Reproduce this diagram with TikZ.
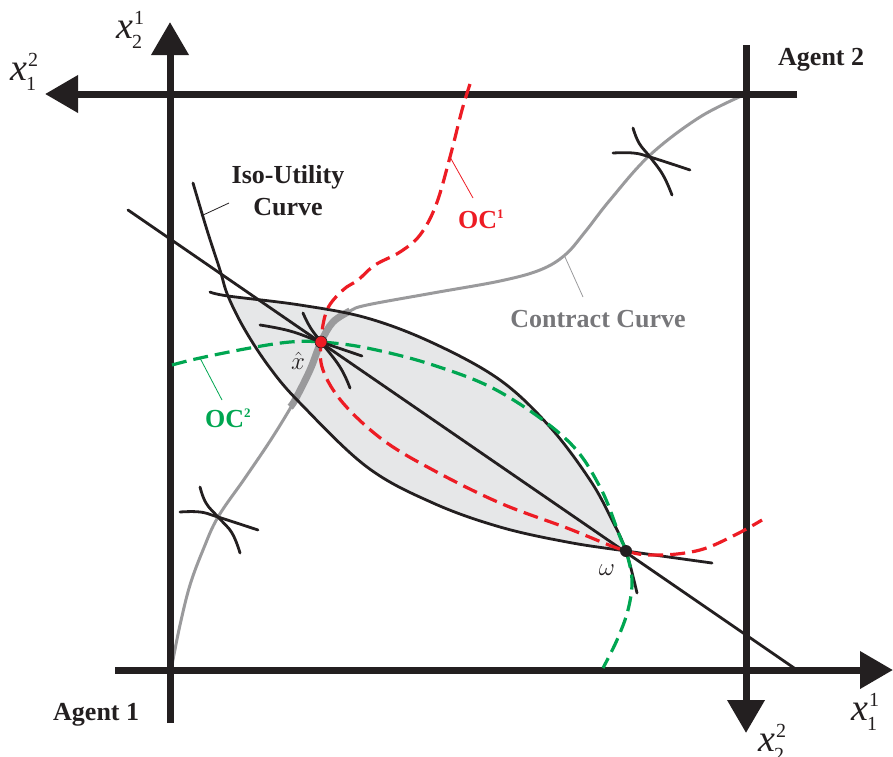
\documentclass[tikz,border=0pt]{standalone}
\usepackage{fontspec}
\setmainfont{Liberation Serif}
\usetikzlibrary{arrows.meta}
\definecolor{ink}{HTML}{231F20}
\definecolor{ocred}{HTML}{ED1C24}
\definecolor{ocgreen}{HTML}{00A651}
\definecolor{ccgrey}{HTML}{9A9A9C}
\definecolor{cctext}{HTML}{77777A}
\definecolor{lens}{HTML}{E6E7E8}
\newcommand{\axlab}[2]{\textit{x}\kern-1pt\rlap{\kern2pt\raisebox{14pt}{\fontsize{20}{20}\selectfont #2}}\raisebox{-10pt}{\fontsize{20}{20}\selectfont #1}}
\tikzset{
  axisline/.style={line width=7pt, draw=ink},
  axisarrow/.style={axisline, -{Triangle[length=33pt,width=36pt]}},
  icurve/.style={line width=2.8pt, draw=ink, line cap=round},
  ocone/.style={line width=3.2pt, draw=ocred, dash pattern=on 15pt off 7pt},
  octwo/.style={line width=3.2pt, draw=ocgreen, dash pattern=on 15pt off 7pt},
  ccurve/.style={line width=3pt, draw=ccgrey},
  pointer/.style={line width=0.8pt},
  lbl/.style={font=\fontsize{26}{28}\selectfont\bfseries, inner sep=0pt},
  mathlbl/.style={font=\fontsize{38}{40}\selectfont, inner sep=0pt},
}
\begin{document}
\begin{tikzpicture}[x=1pt,y=-1pt]
\useasboundingbox (0,0) rectangle (893,756);

% lens
\fill[lens] plot[smooth,tension=0.6] coordinates {(228,296) (300,305) (367,318) (433,343) (500,380) (550,427) (590,480) (612,520) (626,551)}
  -- plot[smooth,tension=0.6] coordinates {(626,551) (567,542) (500,527) (433,503) (367,467) (300,403) (270,368) (245,330) (228,296)} -- cycle;

% contract curve
\draw[ccurve] plot[smooth,tension=0.6] coordinates {(172,665) (180,625) (190,585) (203,550) (218,517) (245,478) (272,438) (295,400) (310,370) (321,342) (333,322) (350,311) (367,305) (433,293) (500,281) (540,270) (565,255) (585,232) (610,200) (650,155) (700,117) (746,94)};
\draw[ccurve, line width=7pt] plot[smooth,tension=0.6] coordinates {(290,407) (295,400) (310,370) (321,342) (333,322) (350,311)};

% axes
\draw[axisarrow] (115,670) -- (893,670);
\draw[axisarrow] (170,723) -- (170,22);
\draw[axisarrow] (797,94) -- (45,94);
\draw[axisarrow] (746,45) -- (746,733);

% price line
\coordinate (xhat) at (321,342);
\coordinate (omega) at (626,551);
\coordinate (pl1) at (128,210);
\coordinate (pl2) at (797,670);
\draw[icurve] (pl1) -- (pl2);

% iso-utility curves through omega
\draw[icurve] plot[smooth,tension=0.6] coordinates {(193,183) (207,230) (220,270) (228,296) (245,330) (270,368) (300,403) (367,467) (433,503) (500,527) (567,542) (626,551) (712,563)};
\draw[icurve] plot[smooth,tension=0.6] coordinates {(210,292) (228,296) (300,305) (367,318) (433,343) (500,380) (550,427) (590,480) (612,520) (626,551) (637,593)};

% offer curves
\draw[ocone] plot[smooth,tension=0.6] coordinates {(470,84) (462,110) (450,157) (436,205) (420,235) (400,252) (375,265) (358,280) (343,290) (327,310) (321,342) (323,370) (343,403) (383,440) (433,470) (500,503) (567,528) (626,551) (660,555) (700,550) (735,535) (762,520)};
\draw[octwo] plot[smooth,tension=0.6] coordinates {(172,365) (200,358) (250,348) (290,342) (321,342) (367,348) (433,365) (500,392) (567,440) (600,487) (620,537) (626,551) (632,580) (628,610) (617,640) (603,668)};

% small indifference curves
\draw[icurve] plot[smooth,tension=0.7] coordinates {(260,325) (290,331) (321,342) (362,356)};
\draw[icurve] plot[smooth,tension=0.7] coordinates {(303,313) (310,327) (321,342) (340,367) (350,388)};
\draw[icurve] plot[smooth,tension=0.7] coordinates {(180,512) (200,512) (218,517) (258,530)};
\draw[icurve] plot[smooth,tension=0.7] coordinates {(200,487) (206,503) (218,517) (232,533) (240,553)};
\draw[icurve] plot[smooth,tension=0.7] coordinates {(613,153) (633,153) (650,157) (690,170)};
\draw[icurve] plot[smooth,tension=0.7] coordinates {(633,128) (639,143) (650,157) (663,175) (672,195)};

% points
\fill[ocred, draw=ink, line width=0.6pt] (xhat) circle (6pt);
\fill[ink] (omega) circle (6pt);

% pointers
\coordinate (isoA) at (201,216); \coordinate (isoB) at (229,203);
\draw[pointer, ink] (isoA) -- (isoB);
\coordinate (ccA) at (565,257); \coordinate (ccB) at (583,297);
\draw[pointer, ccgrey] (ccA) -- (ccB);
\coordinate (oc1A) at (450,157); \coordinate (oc1B) at (473,198);
\draw[pointer, ocred] (oc1A) -- (oc1B);
\coordinate (oc2A) at (200,358); \coordinate (oc2B) at (222,400);
\draw[pointer, ocgreen] (oc2A) -- (oc2B);

% labels
\node[lbl, text=ink, anchor=base] (iso1) at (288,183) {Iso-Utility};
\node[lbl, text=ink, anchor=base] (iso2) at (288,215) {Curve};
\node[lbl, text=cctext, anchor=base] (cclbl) at (598,327) {Contract Curve};
\node[lbl, text=ocred, anchor=base west] (oc1) at (458,228) {OC\textsuperscript{\fontsize{13}{13}\selectfont 1}};
\node[lbl, text=ocgreen, anchor=base west] (oc2) at (205,427) {OC\textsuperscript{\fontsize{13}{13}\selectfont 2}};
\node[lbl, text=ink, anchor=base west] (ag1) at (53,720) {Agent 1};
\node[lbl, text=ink, anchor=base west] (ag2) at (778,65) {Agent 2};
\node[inner sep=0pt, font=\fontsize{24}{26}\selectfont, text=ink] (xhl) at (298,361) {$\hat{x}$};
\node[inner sep=0pt, font=\fontsize{26}{28}\selectfont, text=ink] (oml) at (607,570) {$\omega$};
\node[mathlbl, text=ink, anchor=base west] (l21) at (116,38) {\axlab{2}{1}};
\node[mathlbl, text=ink, anchor=base west] (l12) at (10,80) {\axlab{1}{2}};
\node[mathlbl, text=ink, anchor=base west] (l11) at (851,720) {\axlab{1}{1}};
\node[mathlbl, text=ink, anchor=base west] (l22) at (758,751) {\axlab{2}{2}};
\end{tikzpicture}
\end{document}
